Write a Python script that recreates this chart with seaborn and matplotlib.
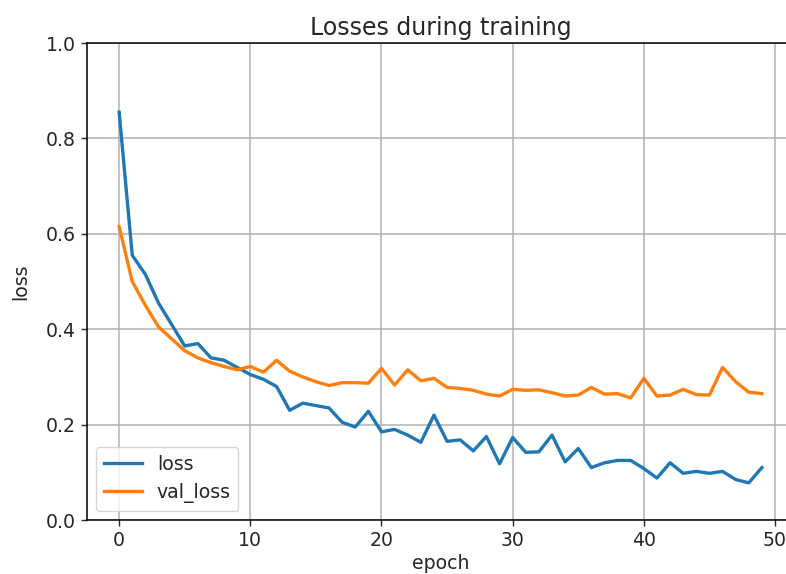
"""
Training / validation loss curves.
"""
import matplotlib

matplotlib.use("Agg")
import pandas as pd
import seaborn as sns
from matplotlib import pyplot as plt

epochs: list[int] = list(range(50))
loss: list[float] = [
    0.855, 0.555, 0.515, 0.455, 0.41, 0.365, 0.37, 0.34, 0.335, 0.32,
    0.305, 0.295, 0.28, 0.23, 0.245, 0.24, 0.235, 0.205, 0.195, 0.228,
    0.185, 0.19, 0.178, 0.163, 0.22, 0.165, 0.168, 0.145, 0.175, 0.118,
    0.173, 0.142, 0.143, 0.178, 0.122, 0.15, 0.11, 0.12, 0.125, 0.125,
    0.108, 0.088, 0.12, 0.098, 0.102, 0.098, 0.102, 0.085, 0.078, 0.11,
]
val_loss: list[float] = [
    0.615, 0.5, 0.45, 0.405, 0.38, 0.355, 0.34, 0.33, 0.322, 0.315,
    0.322, 0.31, 0.335, 0.312, 0.3, 0.29, 0.282, 0.288, 0.288, 0.287,
    0.318, 0.283, 0.315, 0.292, 0.297, 0.278, 0.276, 0.272, 0.264, 0.26,
    0.274, 0.272, 0.273, 0.267, 0.26, 0.262, 0.278, 0.264, 0.265, 0.256,
    0.297, 0.26, 0.262, 0.274, 0.263, 0.262, 0.32, 0.29, 0.268, 0.265,
]

history = pd.DataFrame({"epoch": epochs, "loss": loss, "val_loss": val_loss})

plt.rcParams.update({
    "font.size": 13.6,
    "text.color": "#262626",
    "axes.labelcolor": "#262626",
    "xtick.color": "#262626",
    "ytick.color": "#262626",
    "axes.linewidth": 1.1,
    "xtick.major.size": 4.5,
    "ytick.major.size": 4.5,
    "xtick.major.width": 1.0,
    "ytick.major.width": 1.0,
    "grid.linewidth": 1.1,
    "grid.color": "#b0b0b0",
})

fig = plt.figure(figsize=(7.86, 5.74), dpi=100)
ax = fig.add_axes([0.1107, 0.094, 0.8995, 0.831])

sns.lineplot(data=history, x="epoch", y="loss", label="loss",
             color="#1f77b4", linewidth=2.4, ax=ax)
sns.lineplot(data=history, x="epoch", y="val_loss", label="val_loss",
             color="#ff7f0e", linewidth=2.4, ax=ax)

ax.set_ylim(0, 1.0)
ax.set_yticks([0.0, 0.2, 0.4, 0.6, 0.8, 1.0])
ax.set_xticks([0, 10, 20, 30, 40, 50])
ax.grid(True)
ax.set_title("Losses during training", fontsize=17)
ax.set_xlabel("epoch", labelpad=3)
ax.set_ylabel("loss", labelpad=11)
ax.legend(loc="lower left")

fig.savefig("out.png", dpi=100)
